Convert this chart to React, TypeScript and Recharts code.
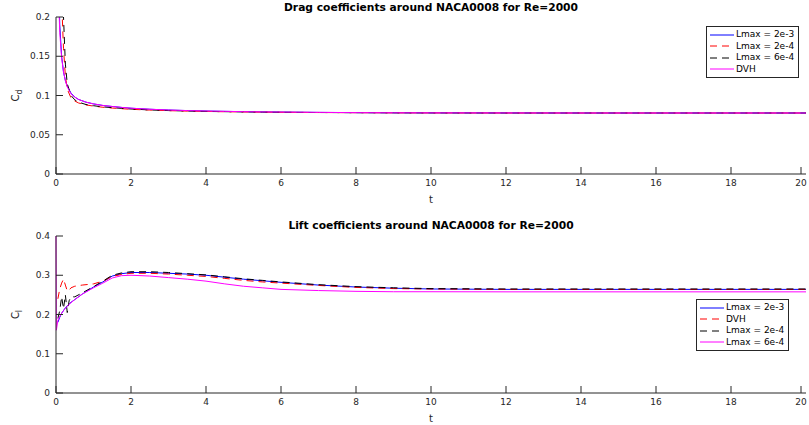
import React from "react";
import { LineChart, Line, XAxis, YAxis, Legend } from "recharts";

// time samples (s)
const tDrag = [0, 0.03, 0.06, 0.1, 0.15, 0.2, 0.25, 0.3, 0.4, 0.5, 0.6, 0.8, 1, 1.25, 1.5, 1.75, 2, 2.5, 3, 3.5, 4, 4.5, 5, 5.5, 6, 7, 8, 9, 10, 12, 14, 16, 18, 20];
const tLift = [0, 0.01, 0.05, 0.1, 0.15, 0.2, 0.25, 0.3, 0.35, 0.4, 0.5, 0.7, 1, 1.25, 1.5, 1.75, 2, 2.5, 3, 3.5, 4, 4.5, 5, 5.5, 6, 7, 8, 9, 10, 12, 14, 16, 18, 20];

// drag coefficients
const cdL2e3 = [0.6, 0.4, 0.28, 0.19, 0.15, 0.13, 0.119, 0.112, 0.103, 0.098, 0.095, 0.0915, 0.0893, 0.0873, 0.086, 0.0848, 0.0838, 0.0825, 0.0815, 0.0808, 0.0802, 0.0798, 0.0794, 0.0791, 0.0789, 0.0785, 0.0782, 0.078, 0.0779, 0.0778, 0.0777, 0.0777, 0.0777, 0.0777];
const cdL2e4 = [0.9, 0.7, 0.5, 0.33, 0.22, 0.16, 0.125, 0.108, 0.097, 0.093, 0.0905, 0.088, 0.0865, 0.085, 0.084, 0.0832, 0.0824, 0.0814, 0.0807, 0.0801, 0.0797, 0.0793, 0.079, 0.0788, 0.0786, 0.0783, 0.0781, 0.0779, 0.0778, 0.0777, 0.0777, 0.0777, 0.0777, 0.0777];
const cdL6e4 = [1.0, 0.8, 0.6, 0.4, 0.27, 0.2, 0.14, 0.115, 0.1, 0.0945, 0.0915, 0.0885, 0.087, 0.0855, 0.0845, 0.0836, 0.0828, 0.0816, 0.0808, 0.0802, 0.0797, 0.0794, 0.0791, 0.0788, 0.0786, 0.0783, 0.0781, 0.0779, 0.0778, 0.0777, 0.0777, 0.0777, 0.0777, 0.0777];
const cdDVH = [0.5, 0.33, 0.24, 0.18, 0.148, 0.13, 0.119, 0.111, 0.102, 0.098, 0.095, 0.0915, 0.0893, 0.0873, 0.086, 0.0848, 0.0838, 0.0825, 0.0815, 0.0808, 0.0802, 0.0798, 0.0794, 0.0791, 0.0789, 0.0785, 0.0782, 0.078, 0.0779, 0.0778, 0.0777, 0.0777, 0.0777, 0.0777];

// lift coefficients
const clL2e3 = [null, null, 0.18, 0.193, 0.203, 0.21, 0.217, 0.222, 0.227, 0.231, 0.238, 0.252, 0.27, 0.283, 0.298, 0.304, 0.307, 0.307, 0.305, 0.303, 0.3, 0.295, 0.29, 0.286, 0.282, 0.275, 0.27, 0.267, 0.265, 0.264, 0.264, 0.264, 0.264, 0.264];
const clDVH = [null, null, 0.24, 0.265, 0.28, 0.29, 0.275, 0.26, 0.262, 0.268, 0.272, 0.275, 0.278, 0.285, 0.297, 0.302, 0.305, 0.305, 0.303, 0.3, 0.297, 0.292, 0.287, 0.283, 0.28, 0.274, 0.269, 0.266, 0.265, 0.264, 0.264, 0.264, 0.264, 0.264];
const clL2e4 = [null, null, 0.19, 0.21, 0.245, 0.215, 0.25, 0.205, 0.235, 0.245, 0.245, 0.255, 0.271, 0.285, 0.3, 0.306, 0.309, 0.309, 0.307, 0.304, 0.301, 0.296, 0.291, 0.287, 0.283, 0.276, 0.271, 0.268, 0.266, 0.265, 0.265, 0.265, 0.265, 0.265];
const clL6e4 = [0.4, 0.16, 0.185, 0.195, 0.203, 0.21, 0.216, 0.221, 0.226, 0.23, 0.238, 0.252, 0.268, 0.28, 0.293, 0.299, 0.3, 0.298, 0.294, 0.29, 0.285, 0.278, 0.272, 0.268, 0.264, 0.261, 0.259, 0.258, 0.258, 0.2577, 0.2577, 0.2577, 0.2577, 0.2577];

const xTicks = [0, 2, 4, 6, 8, 10, 12, 14, 16, 18, 20];
const cdTicks = [0, 0.05, 0.1, 0.15, 0.2];
const clTicks = [0, 0.1, 0.2, 0.3, 0.4];

const dragLabels = ["Lmax = 2e-3", "Lmax = 2e-4", "Lmax = 6e-4", "DVH"];
const liftLabels = ["Lmax = 2e-3", "DVH", "Lmax = 2e-4", "Lmax = 6e-4"];

const AXIS = "#262626";
const FONT = "'DejaVu Sans', sans-serif";
const styles = [
  { color: "#0000ff", dash: undefined },
  { color: "#ff0000", dash: "7 5" },
  { color: "#000000", dash: "7 5" },
  { color: "#ff00ff", dash: undefined },
];

const dragData = tDrag.map((t, i) => ({ t, s0: cdL2e3[i], s1: cdL2e4[i], s2: cdL6e4[i], s3: cdDVH[i] }));
const liftData = tLift.map((t, i) => ({ t, s0: clL2e3[i], s1: clDVH[i], s2: clL2e4[i], s3: clL6e4[i] }));

const M = 6;
const TL = 7;

const XTick = (props: any) => {
  const { x, y, payload } = props;
  return (
    <g>
      <line x1={x} x2={x} y1={y - M} y2={y - M - TL} stroke={AXIS} />
      <text x={x} y={y} dy="0.71em" textAnchor="middle" fill={AXIS} fontSize={9} fontFamily={FONT}>
        {payload.value}
      </text>
    </g>
  );
};

const YTick = (props: any) => {
  const { x, y, payload } = props;
  return (
    <g>
      <line x1={x + M} x2={x + M + TL} y1={y} y2={y} stroke={AXIS} />
      <text x={x} y={y} dy="0.355em" textAnchor="end" fill={AXIS} fontSize={9} fontFamily={FONT}>
        {payload.value}
      </text>
    </g>
  );
};

const makeLegend = (labels: string[]) => () => (
  <div
    style={{
      border: `1px solid ${AXIS}`,
      background: "#fff",
      padding: "2px 4px 2px 3px",
      fontSize: 9,
      lineHeight: "11.5px",
      fontFamily: FONT,
      color: "#000",
      display: "inline-block",
    }}
  >
    {labels.map((lab, i) => (
      <div key={lab} style={{ display: "flex", alignItems: "center", whiteSpace: "nowrap" }}>
        <svg width={24} height={6} style={{ display: "block" }}>
          <line x1={0} x2={24} y1={3} y2={3} stroke={styles[i].color} strokeDasharray={styles[i].dash} />
        </svg>
        <span style={{ marginLeft: 2 }}>{lab}</span>
      </div>
    ))}
  </div>
);

const Panel = ({ data, height, top, domain, ticks, sub, labels, legendPos }: any) => {
  const plotH = 157;
  const xAxisH = height - top - plotH;
  return (
    <LineChart width={809} height={height} data={data} margin={{ top, right: 3, bottom: 0, left: 0 }}>
      <XAxis
        dataKey="t"
        type="number"
        domain={[0, 20]}
        ticks={xTicks}
        height={xAxisH}
        stroke={AXIS}
        tickSize={0}
        tickMargin={M}
        tick={<XTick />}
        label={{
          content: (p: any) => {
            const vb = p.viewBox || {};
            return (
              <text x={vb.x + vb.width / 2} y={vb.y + 29} textAnchor="middle" fill={AXIS} fontSize={10} fontFamily={FONT}>
                t
              </text>
            );
          },
        }}
      />
      <YAxis
        type="number"
        domain={domain}
        ticks={ticks}
        allowDataOverflow
        width={56}
        stroke={AXIS}
        tickSize={0}
        tickMargin={M}
        tick={<YTick />}
        label={{
          content: (p: any) => {
            const vb = p.viewBox || {};
            const cy = vb.y + vb.height / 2;
            return (
              <text x={19} y={cy} transform={`rotate(-90 19 ${cy})`} textAnchor="middle" fill={AXIS} fontSize={10} fontFamily={FONT}>
                C<tspan fontSize={8} dy={3}>{sub}</tspan>
              </text>
            );
          },
        }}
      />
      {styles.map((s, i) => (
        <Line
          key={i}
          dataKey={`s${i}`}
          stroke={s.color}
          strokeDasharray={s.dash}
          strokeWidth={1}
          dot={false}
          type="linear"
          isAnimationActive={false}
        />
      ))}
      <Legend
        layout="horizontal"
        verticalAlign="middle"
        align="center"
        content={makeLegend(labels)}
        wrapperStyle={{ left: legendPos[0], top: legendPos[1], width: "auto", height: "auto" }}
      />
    </LineChart>
  );
};

const titleStyle: React.CSSProperties = {
  position: "absolute",
  left: 56,
  width: 750,
  textAlign: "center",
  fontSize: 10.7,
  fontWeight: "bold",
  lineHeight: "12px",
  fontFamily: FONT,
  color: "#000",
};

export default function App() {
  return (
    <div style={{ position: "absolute", left: 0, top: 0, width: 809, height: 425, background: "#fff", fontFamily: FONT }}>
      <div style={{ position: "absolute", left: 0, top: 0 }}>
        <Panel data={dragData} height={212} top={17} domain={[0, 0.2]} ticks={cdTicks} sub="d" labels={dragLabels} legendPos={[706, 26]} />
      </div>
      <div style={{ position: "absolute", left: 0, top: 212 }}>
        <Panel data={liftData} height={213} top={24} domain={[0, 0.4]} ticks={clTicks} sub="l" labels={liftLabels} legendPos={[696, 87]} />
      </div>
      <div style={{ ...titleStyle, top: 2 }}>Drag coefficients around NACA0008 for Re=2000</div>
      <div style={{ ...titleStyle, top: 220 }}>Lift coefficients around NACA0008 for Re=2000</div>
    </div>
  );
}
